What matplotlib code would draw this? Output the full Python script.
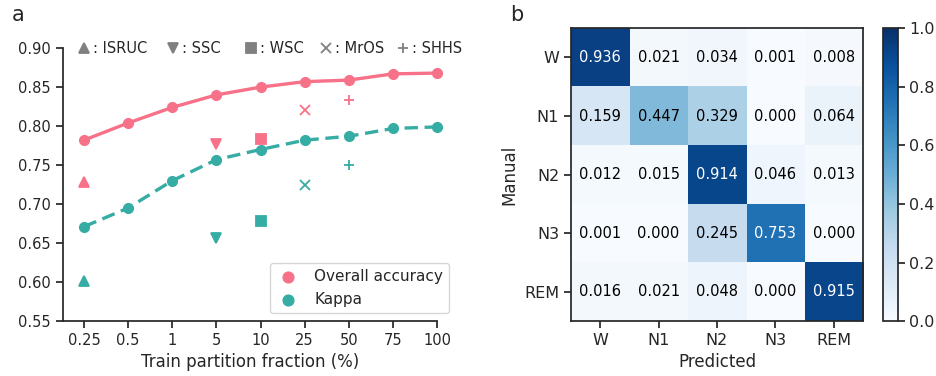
import numpy as np
import matplotlib
matplotlib.use("Agg")
import matplotlib.pyplot as plt

FRACTIONS = ["0.25", "0.5", "1", "5", "10", "25", "50", "75", "100"]
ACCURACY = [0.782, 0.804, 0.824, 0.840, 0.850, 0.857, 0.859, 0.867, 0.868]
KAPPA = [0.671, 0.695, 0.730, 0.757, 0.770, 0.782, 0.787, 0.797, 0.799]

DATASETS = ["ISRUC", "SSC", "WSC", "MrOS", "SHHS"]
DS_MARKERS = ["^", "v", "s", "x", "+"]
DS_FRACTION = ["0.25", "5", "10", "25", "50"]
DS_ACCURACY = [0.728, 0.777, 0.784, 0.821, 0.834]
DS_KAPPA = [0.602, 0.656, 0.678, 0.725, 0.750]

STAGES = ["W", "N1", "N2", "N3", "REM"]
CONFUSION = np.array([
    [0.936, 0.021, 0.034, 0.001, 0.008],
    [0.159, 0.447, 0.329, 0.000, 0.064],
    [0.012, 0.015, 0.914, 0.046, 0.013],
    [0.001, 0.000, 0.245, 0.753, 0.000],
    [0.016, 0.021, 0.048, 0.000, 0.915],
])

PINK = "#f77189"
TEAL = "#36ada4"
TXT = "#262626"

plt.rcParams.update({
    "font.family": "DejaVu Sans", "font.size": 10.5,
    "text.color": TXT, "axes.labelcolor": TXT,
    "xtick.color": TXT, "ytick.color": TXT,
    "axes.edgecolor": TXT, "axes.linewidth": 1.25,
    "xtick.major.width": 1.25, "ytick.major.width": 1.25,
    "xtick.major.size": 5, "ytick.major.size": 5,
})

fig = plt.figure(figsize=(9.36, 3.76), dpi=100)

# ---- panel a
ax = fig.add_axes([0.067, 0.146, 0.400, 0.726])
x = np.arange(len(FRACTIONS))
ax.plot(x, ACCURACY, "-o", color=PINK, lw=2.4, ms=7, clip_on=False)
ax.plot(x, KAPPA, "--o", color=TEAL, lw=2.4, ms=7, clip_on=False, dashes=(4, 2))
for m, f, a, k in zip(DS_MARKERS, DS_FRACTION, DS_ACCURACY, DS_KAPPA):
    xi = FRACTIONS.index(f)
    ax.plot(xi, a, m, color=PINK, ms=7.5, mew=1.3, clip_on=False)
    ax.plot(xi, k, m, color=TEAL, ms=7.5, mew=1.3, clip_on=False)

# header with dataset symbols
header_x = [0, 2.02, 3.79, 5.49, 7.23]
for hx, m, name in zip(header_x, DS_MARKERS, DATASETS):
    ax.plot(hx, 0.900, m, color="#808080", ms=7, mew=1.3, clip_on=False)
    ax.text(hx + 0.2, 0.900, ": " + name, va="center", ha="left", fontsize=10.5)

ax.set_xticks(x)
ax.set_xticklabels(FRACTIONS)
ax.set_yticks(np.arange(0.55, 0.901, 0.05))
ax.set_yticklabels([f"{v:.2f}" for v in np.arange(0.55, 0.901, 0.05)])
ax.set_xlim(-0.48, 8.0)
ax.set_ylim(0.55, 0.90)
ax.spines["top"].set_visible(False)
ax.spines["right"].set_visible(False)
ax.set_xlabel("Train partition fraction (%)", fontsize=12)

h1 = ax.scatter([], [], color=PINK, s=60)
h2 = ax.scatter([], [], color=TEAL, s=60)
leg = ax.legend([h1, h2], ["Overall accuracy", "Kappa"], loc="lower right",
                bbox_to_anchor=(1.032, 0.029), borderaxespad=0, fontsize=11,
                handletextpad=0.9, handlelength=1.6, edgecolor="#cccccc", fancybox=True)
leg.get_frame().set_linewidth(1.0)

fig.text(0.013, 0.96, "a", fontsize=15, va="center", ha="left")

# ---- panel b
axb = fig.add_axes([0.610, 0.146, 0.312, 0.779])
im = axb.imshow(CONFUSION, cmap="Blues", vmin=0, vmax=1, aspect="auto")
for i in range(len(STAGES)):
    for j in range(len(STAGES)):
        v = CONFUSION[i, j]
        axb.text(j, i, f"{v:.3f}", ha="center", va="center", fontsize=10.5,
                 color="white" if v > 0.5 else "black")
axb.set_xticks(range(len(STAGES)))
axb.set_yticks(range(len(STAGES)))
axb.set_xticklabels(STAGES, fontsize=11.5)
axb.set_yticklabels(STAGES, fontsize=11.5)
axb.set_xlabel("Predicted", fontsize=12)
axb.set_ylabel("Manual", fontsize=12)

cax = fig.add_axes([0.943, 0.146, 0.016, 0.779])
cb = fig.colorbar(im, cax=cax, ticks=np.arange(0, 1.01, 0.2))
cb.ax.set_yticklabels([f"{t:.1f}" for t in np.arange(0, 1.01, 0.2)], fontsize=11.5)
cb.outline.set_linewidth(1.25)

fig.text(0.545, 0.96, "b", fontsize=15, va="center", ha="left")

fig.savefig("out.png", dpi=100)
